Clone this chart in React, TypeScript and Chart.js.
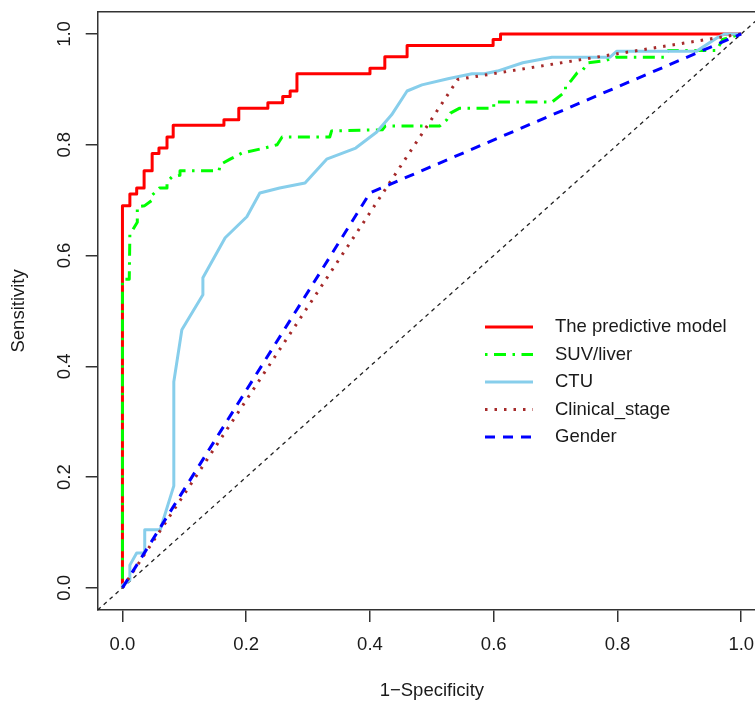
import React, { useEffect, useRef } from "react";
import { Chart, registerables } from "chart.js";

Chart.register(...registerables);

const FONT = "'Liberation Sans', Arial, Helvetica, sans-serif";

const seriesLabels = ["The predictive model", "SUV/liver", "CTU", "Clinical_stage", "Gender"];

const xTicks = [0, 0.2, 0.4, 0.6, 0.8, 1];
const yTicks = [0, 0.2, 0.4, 0.6, 0.8, 1];

const modelX = [0, 0, 0.012, 0.012, 0.023, 0.023, 0.035, 0.035, 0.048, 0.048, 0.059, 0.059, 0.072, 0.072, 0.082, 0.082, 0.164, 0.164, 0.188, 0.188, 0.235, 0.235, 0.259, 0.259, 0.271, 0.271, 0.282, 0.282, 0.4, 0.4, 0.424, 0.424, 0.46, 0.46, 0.599, 0.599, 0.611, 0.611, 1];
const modelY = [0, 0.69, 0.69, 0.711, 0.711, 0.722, 0.722, 0.753, 0.753, 0.784, 0.784, 0.794, 0.794, 0.814, 0.814, 0.835, 0.835, 0.845, 0.845, 0.866, 0.866, 0.876, 0.876, 0.887, 0.887, 0.897, 0.897, 0.928, 0.928, 0.938, 0.938, 0.959, 0.959, 0.979, 0.979, 0.99, 0.99, 1, 1];

const suvX = [0, 0, 0.011, 0.012, 0.017, 0.024, 0.024, 0.036, 0.048, 0.048, 0.06, 0.072, 0.072, 0.08, 0.093, 0.093, 0.156, 0.158, 0.174, 0.193, 0.23, 0.25, 0.258, 0.335, 0.338, 0.42, 0.425, 0.513, 0.524, 0.53, 0.545, 0.6, 0.6, 0.694, 0.716, 0.716, 0.726, 0.735, 0.744, 0.752, 0.78, 0.797, 0.875, 0.882, 0.96, 0.97, 1];
const suvY = [0, 0.557, 0.557, 0.64, 0.647, 0.66, 0.688, 0.69, 0.7, 0.709, 0.722, 0.722, 0.733, 0.742, 0.745, 0.753, 0.753, 0.764, 0.774, 0.785, 0.794, 0.8, 0.814, 0.814, 0.825, 0.827, 0.834, 0.834, 0.845, 0.857, 0.866, 0.866, 0.877, 0.877, 0.896, 0.905, 0.917, 0.93, 0.935, 0.948, 0.952, 0.958, 0.958, 0.97, 0.97, 0.99, 1];

const ctuX = [0, 0, 0.012, 0.012, 0.023, 0.036, 0.036, 0.061, 0.083, 0.083, 0.096, 0.13, 0.13, 0.166, 0.201, 0.222, 0.254, 0.295, 0.33, 0.377, 0.411, 0.435, 0.46, 0.484, 0.526, 0.565, 0.585, 0.606, 0.647, 0.694, 0.788, 0.799, 0.928, 0.961, 0.973, 1];
const ctuY = [0, 0.005, 0.014, 0.041, 0.063, 0.063, 0.105, 0.105, 0.184, 0.372, 0.466, 0.529, 0.56, 0.632, 0.67, 0.713, 0.722, 0.731, 0.774, 0.794, 0.823, 0.854, 0.897, 0.908, 0.919, 0.928, 0.928, 0.933, 0.948, 0.958, 0.958, 0.969, 0.969, 0.993, 1, 1];

const stageX = [0, 0.542, 1];
const stageY = [0, 0.918, 1];

const genderX = [0, 0.4, 1];
const genderY = [0, 0.713, 1];

const diagX = [-0.04, 1.04];
const diagY = [-0.04, 1.04];

const pts = (xs: number[], ys: number[]) => xs.map((x, i) => ({ x, y: ys[i] }));

const seriesData = [
  pts(modelX, modelY),
  pts(suvX, suvY),
  pts(ctuX, ctuY),
  pts(stageX, stageY),
  pts(genderX, genderY),
];

const seriesStyle = [
  { color: "#FF0000", dash: [] as number[], width: 3 },
  { color: "#00FF00", dash: [2.5, 6.5, 12, 6.5], width: 3 },
  { color: "#87CEEB", dash: [] as number[], width: 3 },
  { color: "#A52A2A", dash: [2.5, 7], width: 3 },
  { color: "#0000FF", dash: [10, 8], width: 3 },
];

const AXIS = "#333333";
const TEXT = "#1a1a1a";

const legendPlugin = {
  id: "rocLegend",
  afterDatasetsDraw(chart: any) {
    const ctx = chart.ctx;
    ctx.save();
    const x0 = 485, x1 = 533, tx = 555, y0 = 327, dy = 27.5;
    seriesLabels.forEach((label, i) => {
      const st = seriesStyle[i];
      const y = y0 + i * dy;
      ctx.beginPath();
      ctx.setLineDash(st.dash);
      ctx.lineWidth = st.width;
      ctx.strokeStyle = st.color;
      ctx.lineCap = "butt";
      ctx.moveTo(x0, y);
      ctx.lineTo(x1, y);
      ctx.stroke();
      ctx.setLineDash([]);
      ctx.fillStyle = TEXT;
      ctx.font = `18.5px ${FONT}`;
      ctx.textBaseline = "middle";
      ctx.textAlign = "left";
      ctx.fillText(label, tx, y);
    });
    ctx.restore();
  },
};

const boxPlugin = {
  id: "plotBox",
  afterDraw(chart: any) {
    const { ctx, chartArea } = chart;
    ctx.save();
    ctx.strokeStyle = AXIS;
    ctx.lineWidth = 1.5;
    ctx.setLineDash([]);
    ctx.beginPath();
    ctx.moveTo(chartArea.left, chartArea.top);
    ctx.lineTo(chartArea.right, chartArea.top);
    ctx.lineTo(chartArea.right, chartArea.bottom);
    ctx.stroke();
    ctx.restore();
  },
};

export default function App() {
  const ref = useRef<HTMLCanvasElement>(null);

  useEffect(() => {
    if (!ref.current) return;
    const datasets: any[] = seriesLabels.map((label, i) => ({
      label,
      data: seriesData[i],
      showLine: true,
      borderColor: seriesStyle[i].color,
      backgroundColor: seriesStyle[i].color,
      borderWidth: seriesStyle[i].width,
      borderDash: seriesStyle[i].dash,
      borderCapStyle: "butt",
      borderJoinStyle: "round",
      pointRadius: 0,
      pointHoverRadius: 0,
      tension: 0,
      fill: false,
      order: 5 - i,
    }));
    datasets.push({
      label: "reference",
      data: pts(diagX, diagY),
      showLine: true,
      borderColor: "#222222",
      borderWidth: 1.3,
      borderDash: [4, 4],
      pointRadius: 0,
      pointHoverRadius: 0,
      fill: false,
      clip: 0,
      order: 10,
    });

    const chart = new Chart(ref.current, {
      type: "scatter",
      data: { datasets },
      options: {
        animation: false,
        responsive: false,
        devicePixelRatio: 1,
        layout: { padding: { left: 0, top: 11.8, right: 14, bottom: 0 } },
        plugins: { legend: { display: false }, tooltip: { enabled: false } },
        scales: {
          x: {
            type: "linear",
            position: "bottom",
            min: -0.04,
            max: 1.04,
            afterBuildTicks: (s: any) => {
              s.ticks = xTicks.map((v) => ({ value: v }));
            },
            afterFit: (s: any) => {
              s.height = 91;
              s.paddingLeft = 0;
              s.paddingRight = 0;
              s.paddingTop = 0;
              s.paddingBottom = 0;
            },
            ticks: {
              callback: (v: any) => Number(v).toFixed(1),
              font: { family: FONT, size: 18.5, lineHeight: 1.2 },
              color: TEXT,
              padding: 11.4,
              autoSkip: false,
              minRotation: 0,
              maxRotation: 0,
            },
            grid: {
              display: true,
              drawOnChartArea: false,
              drawTicks: true,
              tickLength: 12,
              color: AXIS,
              tickColor: AXIS,
              tickWidth: 1.5,
              lineWidth: 1.5,
            },
            border: { display: true, color: AXIS, width: 1.5 },
            title: {
              display: true,
              text: "1\u2212Specificity",
              font: { family: FONT, size: 18.5, lineHeight: 1 },
              color: TEXT,
              padding: { top: 0, bottom: 1.3 },
            },
          },
          y: {
            type: "linear",
            position: "left",
            min: -0.04,
            max: 1.04,
            afterBuildTicks: (s: any) => {
              s.ticks = yTicks.map((v) => ({ value: v }));
            },
            afterFit: (s: any) => {
              s.width = 97.7;
              s.paddingLeft = 0;
              s.paddingRight = 0;
              s.paddingTop = 0;
              s.paddingBottom = 0;
            },
            ticks: {
              callback: (v: any) => Number(v).toFixed(1),
              font: { family: FONT, size: 18.5, lineHeight: 1.2 },
              color: TEXT,
              padding: 8,
              crossAlign: "center",
              autoSkip: false,
              minRotation: 90,
              maxRotation: 90,
            },
            grid: {
              display: true,
              drawOnChartArea: false,
              drawTicks: true,
              tickLength: 12,
              color: AXIS,
              tickColor: AXIS,
              tickWidth: 1.5,
              lineWidth: 1.5,
            },
            border: { display: true, color: AXIS, width: 1.5 },
            title: {
              display: true,
              text: "Sensitivity",
              font: { family: FONT, size: 18.5, lineHeight: 1.2 },
              color: TEXT,
              padding: { top: 7.4, bottom: 0 },
            },
          },
        },
      } as any,
      plugins: [legendPlugin, boxPlugin],
    });
    return () => chart.destroy();
  }, []);

  return (
    <div
      style={{
        position: "absolute",
        left: 0,
        top: 0,
        width: 755,
        height: 701,
        overflow: "hidden",
        background: "#ffffff",
      }}
    >
      <canvas ref={ref} width={780} height={701} style={{ display: "block", width: 780, height: 701 }} />
    </div>
  );
}
